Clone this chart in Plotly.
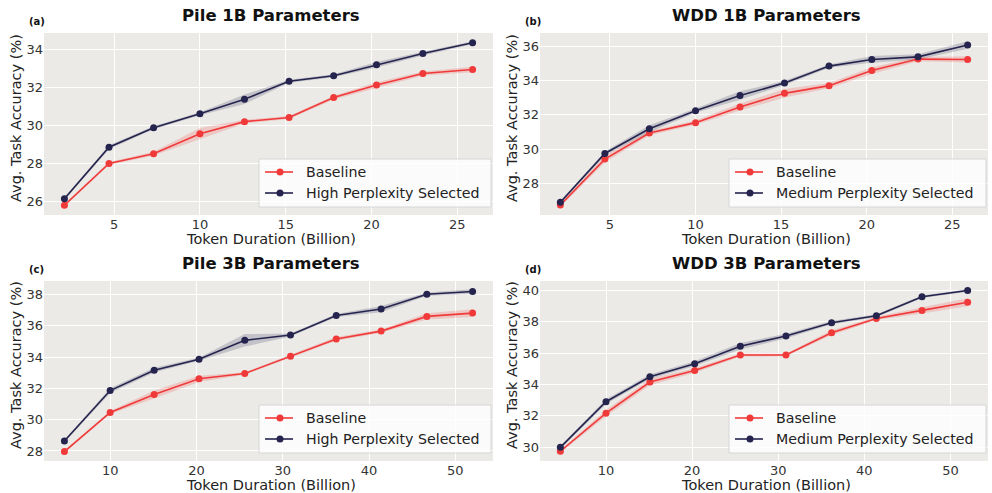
import plotly.graph_objects as go

# ---------------- data ----------------
x_1b = [2.1, 4.7, 7.3, 10.0, 12.6, 15.2, 17.8, 20.3, 23.0, 25.9]
x_3b = [4.7, 10.0, 15.1, 20.3, 25.6, 30.9, 36.2, 41.4, 46.7, 52.0]

pile1b_base = [25.80, 28.00, 28.52, 29.57, 30.21, 30.43, 31.48, 32.14, 32.75, 32.96]
pile1b_base_sd = [0.08, 0.08, 0.10, 0.30, 0.10, 0.08, 0.10, 0.15, 0.10, 0.15]
pile1b_sel = [26.14, 28.86, 29.89, 30.63, 31.39, 32.34, 32.63, 33.21, 33.80, 34.37]
pile1b_sel_sd = [0.08, 0.10, 0.08, 0.08, 0.25, 0.08, 0.08, 0.15, 0.10, 0.08]

wdd1b_base = [26.73, 29.41, 30.93, 31.54, 32.45, 33.25, 33.70, 34.58, 35.25, 35.23]
wdd1b_base_sd = [0.10, 0.20, 0.12, 0.12, 0.20, 0.25, 0.15, 0.20, 0.12, 0.18]
wdd1b_sel = [26.89, 29.74, 31.18, 32.24, 33.12, 33.86, 34.84, 35.23, 35.38, 36.07]
wdd1b_sel_sd = [0.08, 0.12, 0.20, 0.12, 0.25, 0.12, 0.10, 0.20, 0.15, 0.22]

pile3b_base = [27.96, 30.46, 31.61, 32.61, 32.95, 34.05, 35.16, 35.66, 36.60, 36.81]
pile3b_base_sd = [0.08, 0.10, 0.25, 0.20, 0.08, 0.08, 0.12, 0.10, 0.20, 0.25]
pile3b_sel = [28.64, 31.86, 33.16, 33.86, 35.07, 35.41, 36.66, 37.07, 38.02, 38.19]
pile3b_sel_sd = [0.08, 0.15, 0.15, 0.10, 0.40, 0.10, 0.10, 0.20, 0.10, 0.15]

wdd3b_base = [29.75, 32.17, 34.15, 34.89, 35.87, 35.87, 37.29, 38.20, 38.71, 39.23]
wdd3b_base_sd = [0.10, 0.20, 0.20, 0.15, 0.10, 0.08, 0.15, 0.10, 0.20, 0.25]
wdd3b_sel = [30.00, 32.90, 34.49, 35.32, 36.43, 37.08, 37.93, 38.37, 39.58, 39.98]
wdd3b_sel_sd = [0.10, 0.15, 0.15, 0.15, 0.20, 0.15, 0.10, 0.10, 0.08, 0.08]

titles = ["Pile 1B Parameters", "WDD 1B Parameters", "Pile 3B Parameters", "WDD 3B Parameters"]
panel_tags = ["(a)", "(b)", "(c)", "(d)"]
sel_names = ["High Perplexity Selected", "Medium Perplexity Selected",
             "High Perplexity Selected", "Medium Perplexity Selected"]
x_ticks_1b = [5, 10, 15, 20, 25]
x_ticks_3b = [10, 20, 30, 40, 50]
x_title = "Token Duration (Billion)"
y_title = "Avg. Task Accuracy (%)"

panels = [
    (x_1b, pile1b_base, pile1b_base_sd, pile1b_sel, pile1b_sel_sd, x_ticks_1b, [26, 28, 30, 32, 34]),
    (x_1b, wdd1b_base, wdd1b_base_sd, wdd1b_sel, wdd1b_sel_sd, x_ticks_1b, [28, 30, 32, 34, 36]),
    (x_3b, pile3b_base, pile3b_base_sd, pile3b_sel, pile3b_sel_sd, x_ticks_3b, [28, 30, 32, 34, 36, 38]),
    (x_3b, wdd3b_base, wdd3b_base_sd, wdd3b_sel, wdd3b_sel_sd, x_ticks_3b, [30, 32, 34, 36, 38, 40]),
]

# ---------------- style / layout ----------------
W, H = 992, 493
RED = "#F03A3A"
NAVY = "#24244E"
RED_BAND = "rgba(240,58,58,0.20)"
NAVY_BAND = "rgba(36,36,78,0.20)"
BG = "#EBEAE6"
FONT = "DejaVu Sans"

# plot-area pixel boxes (left, right, top, bottom)
boxes = [(44, 493, 33, 215), (540, 988, 33, 215), (44, 493, 281, 461), (540, 988, 281, 461)]

fig = go.Figure()
layout = dict(
    width=W, height=H, margin=dict(l=0, r=0, t=0, b=0, autoexpand=False),
    paper_bgcolor="white", plot_bgcolor=BG, showlegend=False,
    font=dict(family=FONT, color="#222222"),
)
annotations = []
shapes = []


def px_x(p):
    return p / W


def px_y(p):
    return 1 - p / H


for i, (xs, base, base_sd, sel, sel_sd, xt, yt) in enumerate(panels):
    ax = "" if i == 0 else str(i + 1)
    xa, ya = "x" + ax, "y" + ax
    l, r, t, b = boxes[i]

    for ys, sd, band in [(base, base_sd, RED_BAND), (sel, sel_sd, NAVY_BAND)]:
        lo = [v - s for v, s in zip(ys, sd)]
        hi = [v + s for v, s in zip(ys, sd)]
        fig.add_trace(go.Scatter(x=xs, y=lo, mode="lines", line=dict(width=0),
                                 hoverinfo="skip", xaxis=xa, yaxis=ya))
        fig.add_trace(go.Scatter(x=xs, y=hi, mode="lines", line=dict(width=0),
                                 fill="tonexty", fillcolor=band,
                                 hoverinfo="skip", xaxis=xa, yaxis=ya))
    for ys, col, name in [(base, RED, "Baseline"), (sel, NAVY, sel_names[i])]:
        fig.add_trace(go.Scatter(x=xs, y=ys, mode="lines+markers", name=name,
                                 line=dict(color=col, width=1.6),
                                 marker=dict(color=col, size=7),
                                 xaxis=xa, yaxis=ya))

    allv = [v - s for v, s in zip(base, base_sd)] + [v + s for v, s in zip(sel, sel_sd)]
    ymin, ymax = min(allv), max(allv)
    ypad = (ymax - ymin) * 0.05
    xpad = (xs[-1] - xs[0]) * 0.05

    layout["xaxis" + ax] = dict(
        domain=[px_x(l), px_x(r)], anchor=ya, automargin=False,
        range=[xs[0] - xpad, xs[-1] + xpad],
        tickvals=xt, showgrid=True, gridcolor="white", gridwidth=1.2,
        zeroline=False, showline=False, ticks="", ticklen=0,
        tickfont=dict(size=13, color="#333333"),
    )
    layout["yaxis" + ax] = dict(
        domain=[px_y(b), px_y(t)], anchor=xa, automargin=False,
        range=[ymin - ypad, ymax + ypad],
        tickvals=yt, showgrid=True, gridcolor="white", gridwidth=1.2,
        zeroline=False, showline=False, ticks="", ticklen=0,
        tickfont=dict(size=13, color="#333333"),
    )

    # axis titles
    annotations.append(dict(text=x_title, x=px_x((l + r) / 2 + 2), y=px_y(b + 24),
                            xref="paper", yref="paper", showarrow=False,
                            font=dict(size=14.5, family=FONT, color="#222222"),
                            xanchor="center", yanchor="middle"))
    annotations.append(dict(text=y_title, x=px_x(l - 28), y=px_y((t + b) / 2 - 6),
                            xref="paper", yref="paper", showarrow=False, textangle=-90,
                            font=dict(size=14.5, family=FONT, color="#222222"),
                            xanchor="center", yanchor="middle"))

    # title and tag
    annotations.append(dict(text="<b>" + titles[i] + "</b>", x=px_x((l + r) / 2 + 2), y=px_y(t - 18),
                            xref="paper", yref="paper", showarrow=False,
                            font=dict(size=16.5, family=FONT, color="#111111"),
                            xanchor="center", yanchor="middle"))
    annotations.append(dict(text="<b>" + panel_tags[i] + "</b>", x=px_x(l - 17), y=px_y(t - 12),
                            xref="paper", yref="paper", showarrow=False,
                            font=dict(size=10, family=FONT, color="#111111"),
                            xanchor="left", yanchor="middle"))

    # legend box (drawn per panel, lower right)
    leg_w = 232 if i in (0, 2) else 257
    lx1 = r - 2
    lx0 = lx1 - leg_w
    ly1 = b - 8
    ly0 = ly1 - 48
    shapes.append(dict(type="rect", xref="paper", yref="paper",
                       x0=px_x(lx0), x1=px_x(lx1), y0=px_y(ly1), y1=px_y(ly0),
                       fillcolor="rgba(255,255,255,0.82)", line=dict(color="#D6D6D6", width=1),
                       layer="above"))
    for k, (col, name) in enumerate([(RED, "Baseline"), (NAVY, sel_names[i])]):
        yy = ly0 + 13 + k * 21
        shapes.append(dict(type="line", xref="paper", yref="paper",
                           x0=px_x(lx0 + 6), x1=px_x(lx0 + 34), y0=px_y(yy), y1=px_y(yy),
                           line=dict(color=col, width=1.6), layer="above"))
        shapes.append(dict(type="circle", xref="paper", yref="paper",
                           x0=px_x(lx0 + 17.5), x1=px_x(lx0 + 24.5), y0=px_y(yy + 3.5), y1=px_y(yy - 3.5),
                           fillcolor=col, line=dict(color=col, width=0), layer="above"))
        annotations.append(dict(text=name, x=px_x(lx0 + 45), y=px_y(yy),
                                xref="paper", yref="paper", showarrow=False,
                                font=dict(size=14.2, family=FONT, color="#222222"),
                                xanchor="left", yanchor="middle"))

layout["annotations"] = annotations
layout["shapes"] = shapes
fig.update_layout(**layout)
fig.write_html("out.html", config={"displayModeBar": False},
               post_script="document.body.style.margin='0';document.body.style.overflow='hidden';")
